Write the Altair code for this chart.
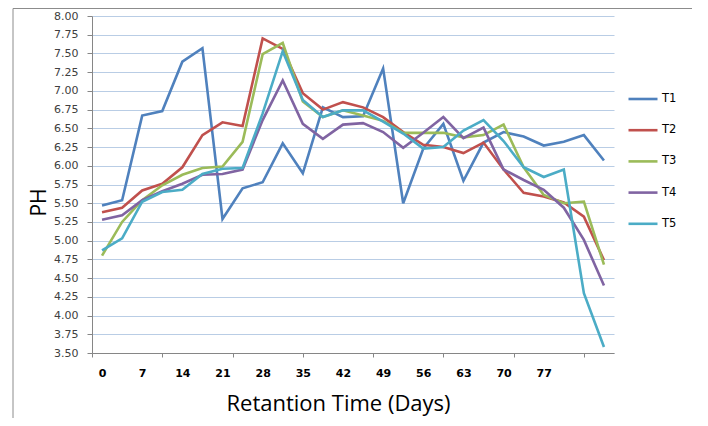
import altair as alt
import pandas as pd

# Retention time (days) for each sample point
days = [0, 3.5, 7, 10.5, 14, 17.5, 21, 24.5, 28, 31.5, 35, 38.5, 42,
        45.5, 49, 52.5, 56, 59.5, 63, 66.5, 70, 73.5, 77, 80.5, 84, 87.5]

series_names = ["T1", "T2", "T3", "T4", "T5"]

T1 = [5.47, 5.54, 6.67, 6.73, 7.39, 7.57, 5.29, 5.70, 5.78, 6.30, 5.90, 6.78, 6.65,
      6.66, 7.30, 5.50, 6.23, 6.56, 5.80, 6.31, 6.45, 6.39, 6.27, 6.32, 6.41, 6.07]
T2 = [5.38, 5.44, 5.67, 5.76, 5.98, 6.41, 6.58, 6.53, 7.70, 7.56, 6.97, 6.75, 6.85,
      6.78, 6.65, 6.45, 6.28, 6.25, 6.17, 6.31, 5.95, 5.64, 5.59, 5.51, 5.32, 4.74]
T3 = [4.80, 5.25, 5.54, 5.74, 5.88, 5.97, 5.99, 6.32, 7.49, 7.64, 6.86, 6.65, 6.74,
      6.67, 6.60, 6.44, 6.44, 6.44, 6.38, 6.41, 6.55, 5.98, 5.61, 5.50, 5.52, 4.68]
T4 = [5.28, 5.34, 5.54, 5.66, 5.76, 5.88, 5.89, 5.95, 6.61, 7.14, 6.56, 6.36, 6.55,
      6.57, 6.45, 6.24, 6.44, 6.65, 6.37, 6.51, 5.95, 5.81, 5.68, 5.44, 5.01, 4.40]
T5 = [4.87, 5.03, 5.52, 5.65, 5.68, 5.89, 5.96, 5.97, 6.70, 7.53, 6.88, 6.65, 6.74,
      6.74, 6.59, 6.43, 6.23, 6.25, 6.47, 6.61, 6.33, 5.98, 5.85, 5.95, 4.30, 3.58]

label_days = [0, 7, 14, 21, 28, 35, 42, 49, 56, 63, 70, 77]
tick_days = [-1.75, 10.5, 22.75, 35, 47.25, 59.5, 71.75, 84]
y_ticks = [3.5, 3.75, 4.0, 4.25, 4.5, 4.75, 5.0, 5.25, 5.5, 5.75, 6.0,
           6.25, 6.5, 6.75, 7.0, 7.25, 7.5, 7.75, 8.0]
colors = ["#4F81BD", "#C0504D", "#9BBB59", "#8064A2", "#4BACC6"]

rows = []
for name, vals in zip(series_names, [T1, T2, T3, T4, T5]):
    for d, v in zip(days, vals):
        rows.append({"day": d, "ph": v, "series": name})
df = pd.DataFrame(rows)

axis_values = sorted(set(label_days) | set(tick_days))
tick_list = "[" + ",".join(str(t) for t in tick_days) + "]"
label_list = "[" + ",".join(str(t) for t in label_days) + "]"

x_axis = alt.Axis(
    values=axis_values,
    grid=False,
    labelExpr=f"indexof({label_list}, datum.value) >= 0 ? datum.value + '' : ''",
    labelFont="DejaVu Sans", labelFontSize=11, labelFontWeight="bold",
    labelColor="#000000", labelPadding=10, labelBaseline="top",
    labelOverlap=False, labelFlush=False, labelBound=False,
    tickSize=4, tickColor="#868686",
    tickOpacity={"condition": {"test": f"indexof({tick_list}, datum.value) >= 0", "value": 1}, "value": 0},
    domainColor="#868686", domainWidth=1,
    title="Retantion Time (Days)",
    titleFont="Open Sans", titleFontSize=22, titleFontWeight="normal",
    titleColor="#000000", titleX=246, titleY=57,
    titleAlign="center", titleBaseline="alphabetic",
)

y_axis = alt.Axis(
    values=y_ticks, format=".2f",
    grid=True, gridColor="#B9CDE5", gridWidth=1,
    labelFont="DejaVu Sans", labelFontSize=11, labelColor="#404040",
    labelPadding=9,
    tickSize=5, tickColor="#868686",
    domainColor="#868686", domainWidth=1,
    title="PH",
    titleFont="Open Sans", titleFontSize=21, titleFontWeight="normal",
    titleColor="#000000", titleX=-53, titleY=186,
    titleAngle=270, titleAlign="center", titleBaseline="middle",
)

lines = alt.Chart(df).mark_line(strokeWidth=2.6).encode(
    x=alt.X("day:Q", scale=alt.Scale(domain=[-1.75, 89.25], nice=False, zero=False), axis=x_axis),
    y=alt.Y("ph:Q", scale=alt.Scale(domain=[3.5, 8.0], nice=False, zero=False), axis=y_axis),
    color=alt.Color(
        "series:N",
        scale=alt.Scale(domain=series_names, range=colors),
        legend=alt.Legend(
            title=None, orient="none", legendX=535, legendY=67,
            symbolType="stroke", symbolSize=841, symbolStrokeWidth=2.6,
            labelFont="DejaVu Sans", labelFontSize=11.5, labelColor="#000000",
            labelOffset=3, rowPadding=9.2, padding=0,
        ),
    ),
    detail="series:N",
)

frame_data = alt.Data(values=[{"k": 1}])
frame_left = alt.Chart(frame_data).mark_rule(color="#8C8C8C", strokeWidth=1).encode(
    x=alt.value(-79), y=alt.value(-7.5), y2=alt.value(402)
)
frame_top = alt.Chart(frame_data).mark_rule(color="#8C8C8C", strokeWidth=1).encode(
    x=alt.value(-79), x2=alt.value(600), y=alt.value(-7.5)
)

chart = alt.layer(lines, frame_left, frame_top).properties(
    width=522, height=337,
    padding={"left": 84, "top": 8, "right": 86, "bottom": 65},
    autosize=alt.AutoSizeParams(type="none"),
).configure_view(stroke=None)

chart.save("out.html", embed_options={"renderer": "svg", "actions": False})
